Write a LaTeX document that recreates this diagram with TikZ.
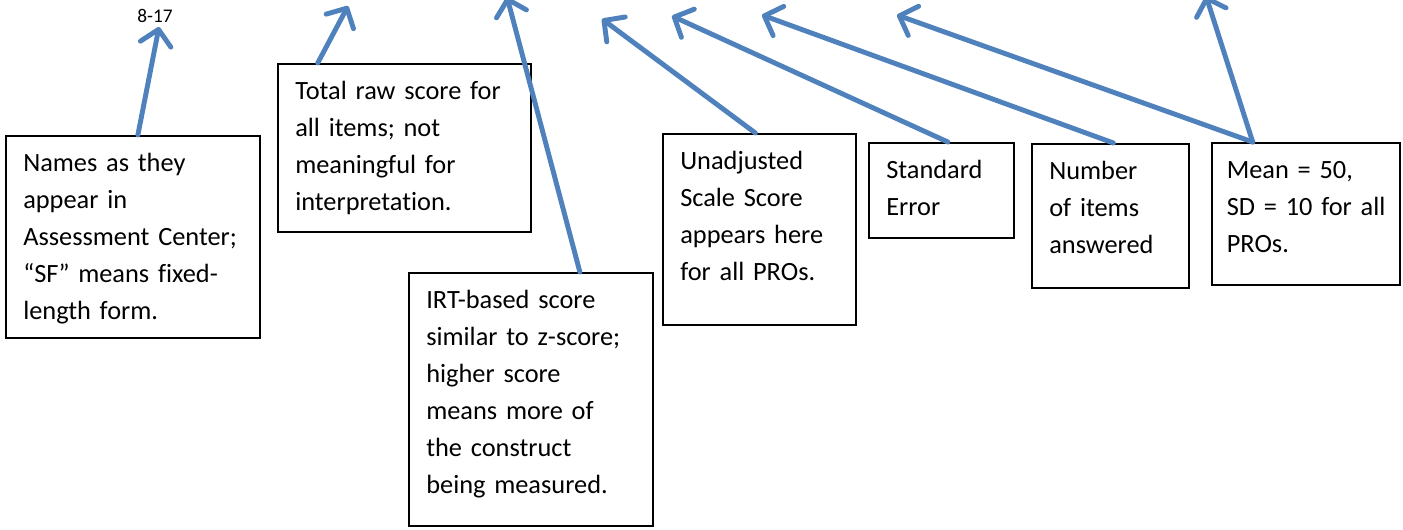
\documentclass[tikz,border=0pt]{standalone}
\usepackage{fontspec}
\setmainfont{Carlito}[Ligatures={NoCommon, NoRare, NoContextual}]
\usetikzlibrary{arrows.meta, calc}
\definecolor{arrowblue}{RGB}{79,129,189}

\begin{document}
\begin{tikzpicture}[x=0.02cm, y=-0.02cm,
        note/.style={draw, line width=0.9pt, anchor=north west, align=left,
            inner xsep=0.35cm, inner ysep=0pt, text height=0.72cm,
            font=\fontsize{15}{21}\selectfont},
        pointer/.style={draw=arrowblue, line width=2.8pt, line cap=round,
            -{Straight Barb[length=0.3cm, width=0.62cm, round]}}]

        \useasboundingbox (0, 0) rectangle (1403, 529);

        \node[font=\fontsize{11}{13}\selectfont] (page) at (155, 16) {8-17};

        \node[note, text width=4.38cm, text depth=3.32cm] (names) at (5, 135)
            {Names as they\\ appear in\\ Assessment Center;\\ “SF” means fixed-\\ length form.};
        \node[note, text width=4.36cm, text depth=2.64cm] (raw) at (277, 63)
            {Total raw score for\\ all items; not\\ meaningful for\\ interpretation.};
        \node[note, text width=4.18cm, text depth=4.34cm] (irt) at (408, 272)
            {IRT-based score\\ similar to z-score;\\ higher score\\ means more of\\ the construct\\ being measured.};
        \node[note, text width=3.16cm, text depth=3.10cm] (unadj) at (662, 133)
            {Unadjusted\\ Scale Score\\ appears here\\ for all PROs.};
        \node[note, text width=2.20cm, text depth=1.18cm] (stderr) at (868, 142)
            {Standard\\ Error};
        \node[note, text width=2.44cm, text depth=2.16cm] (nitems) at (1031, 143)
            {Number\\ of items\\ answered};
        \node[note, inner xsep=0.2cm, text width=3.36cm, text depth=2.12cm] (mean) at (1211, 142)
            {\hspace*{0.1cm}Mean = 50,\\ \hspace*{0.1cm}SD = 10 for all\\ \hspace*{0.1cm}PROs.};

        % arrow tips, up in the table
        \coordinate (tip1) at (159, 27);
        \coordinate (tip2) at (348, 6);
        \coordinate (tip3) at (507, -3);
        \coordinate (tip4) at (602, 19);
        \coordinate (tip5) at (672, 16);
        \coordinate (tip6) at (762, 15);
        \coordinate (tip7) at (897, 15);
        \coordinate (tip8) at (1206, -4);

        \draw[pointer] ($(names.north west)!0.52!(names.north east)$) -- (tip1);
        \draw[pointer] ($(raw.north west)!0.16!(raw.north east)$) -- (tip2);
        \draw[pointer] ($(irt.north west)!0.7!(irt.north east)$) -- (tip3);
        \draw[pointer] ($(unadj.north west)!0.48!(unadj.north east)$) -- (tip4);
        \draw[pointer] ($(stderr.north west)!0.545!(stderr.north east)$) -- (tip5);
        \draw[pointer] ($(nitems.north west)!0.52!(nitems.north east)$) -- (tip6);
        \draw[pointer] ($(mean.north west)!0.22!(mean.north east)$) -- (tip7);
        \draw[pointer] ($(mean.north west)!0.22!(mean.north east)$) -- (tip8);

\end{tikzpicture}
\end{document}
